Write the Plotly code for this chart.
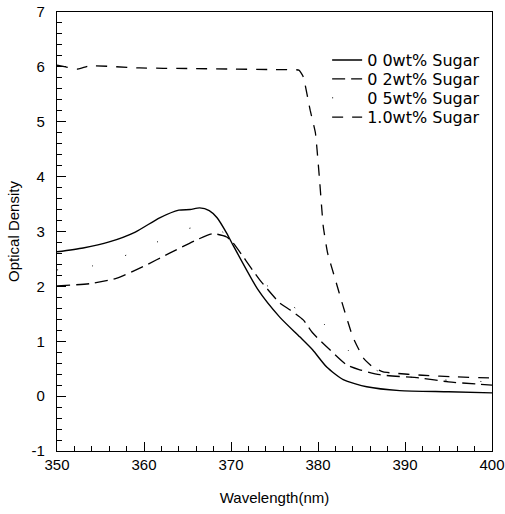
import plotly.graph_objects as go

# ---- data ----
x_00 = [350, 353, 356, 359, 361.8, 364, 365.3, 366.4, 367.5, 368.4, 369.5, 370.1,
        373.1, 375.6, 377.9, 379.4, 381, 382.9, 385.6, 389.4, 395, 400]
y_00 = [2.63, 2.70, 2.81, 2.99, 3.25, 3.39, 3.40, 3.43, 3.38, 3.25, 2.97, 2.79,
        1.94, 1.44, 1.08, 0.84, 0.53, 0.30, 0.17, 0.10, 0.08, 0.06]

x_02 = [350, 353.8, 356.9, 359.9, 363, 366.1, 367.9, 369.5, 370.2, 373.3, 375.6,
        376.8, 378.3, 379.4, 381.4, 383.3, 384.8, 387.1, 391.7, 395, 400]
y_02 = [2.01, 2.05, 2.15, 2.36, 2.61, 2.85, 2.96, 2.90, 2.80, 2.12, 1.70,
        1.57, 1.39, 1.15, 0.84, 0.57, 0.48, 0.39, 0.33, 0.26, 0.20]

x_05 = [350, 355, 360, 365, 368, 370, 373, 376, 378, 379.8, 382, 384, 387, 392, 400]
y_05 = [2.30, 2.40, 2.70, 3.05, 3.10, 2.85, 2.20, 1.75, 1.55, 1.44, 1.10, 0.75, 0.45, 0.32, 0.26]

x_10 = [350, 351, 352.4, 353.8, 359.5, 365, 370, 375, 377.8, 378.3, 379.1, 379.7,
        380.2, 380.6, 381.1, 382, 382.9, 384, 385.2, 386.3, 387.5, 388.6, 392, 396, 400]
y_10 = [6.03, 6.00, 5.96, 6.02, 5.98, 5.97, 5.96, 5.95, 5.94, 5.82, 5.21, 4.80,
        3.90, 3.10, 2.61, 2.12, 1.63, 1.08, 0.70, 0.53, 0.44, 0.42, 0.38, 0.35, 0.33]

names = ["0 0wt% Sugar", "0 2wt% Sugar", "0 5wt% Sugar", "1.0wt% Sugar"]

x_ticks = [350, 360, 370, 380, 390, 400]
y_ticks = [-1, 0, 1, 2, 3, 4, 5, 6, 7]

FONT = "Liberation Sans, Arial, sans-serif"
LFONT = "DejaVu Sans, Liberation Sans, sans-serif"

fig = go.Figure()
fig.add_trace(go.Scatter(x=x_00, y=y_00, mode="lines", name=names[0], legend="legend",
                         line=dict(color="black", width=1.4, dash="solid", shape="spline", smoothing=0.6)))
fig.add_trace(go.Scatter(x=x_02, y=y_02, mode="lines", name=names[1], legend="legend2",
                         line=dict(color="black", width=1.3, dash="13px,6px", shape="spline", smoothing=0.6)))
fig.add_trace(go.Scatter(x=x_05, y=y_05, mode="lines", name=names[2], legend="legend3",
                         line=dict(color="black", width=1.0, dash="1px,34px", shape="spline", smoothing=0.6)))
fig.add_trace(go.Scatter(x=x_10, y=y_10, mode="lines", name=names[3], legend="legend4",
                         line=dict(color="black", width=1.3, dash="11px,9px", shape="spline", smoothing=0.4)))

def leg(ytop):
    return dict(x=0.621, y=ytop, xanchor="left", yanchor="top",
                bgcolor="rgba(0,0,0,0)", borderwidth=0,
                font=dict(family=LFONT, size=16, color="black"),
                itemwidth=30)

fig.update_layout(
    width=505, height=514,
    margin=dict(l=57, r=13, t=12, b=63),
    paper_bgcolor="white", plot_bgcolor="white",
    font=dict(family=FONT, color="black", size=15),
    showlegend=True,
    legend=leg(0.929), legend2=leg(0.886), legend3=leg(0.843), legend4=leg(0.799),
    xaxis=dict(range=[350, 400], tickvals=x_ticks, ticktext=[str(v) for v in x_ticks],
               automargin=False,
               ticks="inside", ticklen=9, tickwidth=1.2, tickcolor="black",
               minor=dict(dtick=2, ticks="inside", ticklen=5, tickcolor="black", tickwidth=1),
               showline=True, linecolor="black", linewidth=1.3, mirror=True,
               showgrid=False, zeroline=False,
               tickfont=dict(family=FONT, size=15),
               title=dict(text="Wavelength(nm)", font=dict(family=FONT, size=15), standoff=20)),
    yaxis=dict(range=[-1, 7], tickvals=y_ticks, ticktext=[str(v) for v in y_ticks],
               automargin=False,
               ticks="inside", ticklen=9, tickwidth=1.2, tickcolor="black",
               minor=dict(dtick=0.2, ticks="inside", ticklen=5, tickcolor="black", tickwidth=1),
               showline=True, linecolor="black", linewidth=1.3, mirror=True,
               showgrid=False, zeroline=False, ticklabelstandoff=8,
               tickfont=dict(family=FONT, size=15),
               title=dict(text="Optical Density", font=dict(family=FONT, size=15), standoff=8)),
)

fig.write_html("out.html")
